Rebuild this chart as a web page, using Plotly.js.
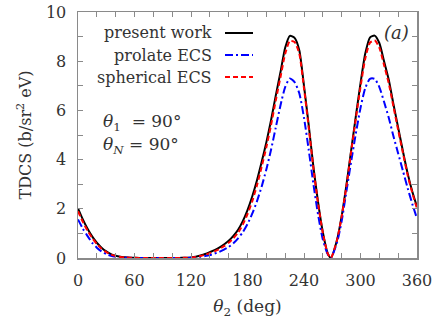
<!DOCTYPE html>
<html>
<head>
<meta charset="utf-8">
<script src="https://cdn.plot.ly/plotly-3.0.1.min.js"></script>
<style>html,body{margin:0;padding:0;background:#fff;}#chart{width:436px;height:319px;}</style>
</head>
<body>
<div id="chart"></div>
<script>
// theta_2 in degrees (step 5, with the minimum read at 268.5)
const theta = [0,5,10,15,20,25,30,35,40,45,50,55,60,65,70,75,80,85,90,95,
  100,105,110,115,120,125,130,135,140,145,150,155,160,165,170,175,180,185,190,195,
  200,205,210,215,220,225,230,235,240,245,250,255,260,265,268.5,275,280,285,290,295,
  300,305,310,315,320,325,330,335,340,345,350,355,360];

const presentWork = [2.02,1.58,1.2,0.88,0.62,0.42,0.27,0.16,0.09,0.05,0.03,0.015,0.008,0.004,0.002,0.001,0,0,0,0,
  0.001,0.003,0.006,0.012,0.025,0.05,0.1,0.16,0.24,0.32,0.42,0.55,0.7,0.9,1.15,1.5,1.95,2.5,3.15,3.9,
  4.7,5.6,6.6,7.55,8.55,9.03,8.95,8.45,7.0,5.4,3.7,2.25,1.05,0.21,0,0.72,1.7,2.95,4.35,5.75,
  7.1,8.3,8.96,9.04,8.74,8.0,7.25,6.25,5.3,4.35,3.45,2.7,2.08];

const prolateECS = [1.57,1.2,0.9,0.62,0.42,0.27,0.16,0.09,0.05,0.025,0.012,0.006,0.003,0,0,0,0,0,0,0,
  0,0.001,0.003,0.006,0.012,0.025,0.05,0.08,0.12,0.18,0.25,0.34,0.45,0.6,0.8,1.05,1.38,1.8,2.3,2.9,
  3.6,4.4,5.3,6.2,6.95,7.3,7.15,6.7,5.7,4.4,3.0,1.75,0.75,0.17,0,0.62,1.5,2.7,3.9,5.05,
  6.1,6.9,7.28,7.28,6.95,6.35,5.7,4.95,4.25,3.55,2.85,2.2,1.6];

const sphericalECS = [1.9,1.48,1.12,0.82,0.57,0.38,0.24,0.14,0.08,0.045,0.025,0.012,0.006,0.003,0.001,0,0,0,0,0,
  0.001,0.002,0.005,0.01,0.02,0.04,0.08,0.13,0.2,0.27,0.36,0.48,0.62,0.8,1.03,1.36,1.78,2.3,2.95,3.7,
  4.5,5.4,6.4,7.35,8.3,8.82,8.78,8.3,6.9,5.3,3.65,2.2,1.02,0.2,0,0.72,1.68,2.9,4.3,5.65,
  6.95,8.1,8.75,8.85,8.55,7.85,7.1,6.15,5.2,4.28,3.38,2.65,2.02];

const seriesNames = ['present work', 'prolate ECS', 'spherical ECS'];
const xTickVals = [0, 60, 120, 180, 240, 300, 360];
const yTickVals = [0, 2, 4, 6, 8, 10];

const FONT = 'DejaVu Serif';
const TXT = '#333';
const AX = '#8a8a8a';

const styles = [
  {color: '#000000', dash: 'solid', width: 2},
  {color: '#0000ff', dash: '8px,3px,2px,3px', width: 2},
  {color: '#ff0000', dash: '5px,3px', width: 2}
];
const ys = [presentWork, prolateECS, sphericalECS];

const traces = ys.map((y, i) => ({
  x: theta, y: y, type: 'scatter', mode: 'lines', name: seriesNames[i],
  line: {color: styles[i].color, dash: styles[i].dash, width: styles[i].width, shape: 'spline', smoothing: 0.6},
  showlegend: false
}));

// manual legend (text right-aligned, sample line to the right)
const L = 78, R = 417, T = 12, B = 258;
const px = v => (v - L) / (R - L);
const py = v => (B - v) / (B - T);
const legendRows = [33, 55, 77];
const annotations = [];
const shapes = [];
seriesNames.forEach((n, i) => {
  annotations.push({xref: 'paper', yref: 'paper', x: px(214), y: py(legendRows[i]), xanchor: 'right', yanchor: 'middle',
    text: n, showarrow: false, font: {family: FONT, size: 16, color: TXT}});
  shapes.push({type: 'line', xref: 'paper', yref: 'paper', x0: px(225), x1: px(253), y0: py(legendRows[i]), y1: py(legendRows[i]),
    line: {color: styles[i].color, dash: styles[i].dash, width: 2}});
});
annotations.push({xref: 'paper', yref: 'paper', x: px(411), y: py(33), xanchor: 'right', yanchor: 'middle',
  text: '<i>(a)</i>', showarrow: false, font: {family: FONT, size: 18, color: TXT}});
annotations.push({xref: 'paper', yref: 'paper', x: px(101), y: py(123), xanchor: 'left', yanchor: 'middle',
  text: '<i>θ</i><sub>1</sub>  = 90°', showarrow: false, font: {family: FONT, size: 17, color: TXT}});
annotations.push({xref: 'paper', yref: 'paper', x: px(101), y: py(145), xanchor: 'left', yanchor: 'middle',
  text: '<i>θ</i><sub><i>N</i></sub> = 90°', showarrow: false, font: {family: FONT, size: 17, color: TXT}});

const axisCommon = {
  showline: true, linecolor: AX, linewidth: 1.5, mirror: 'ticks',
  ticks: 'inside', ticklen: 5, tickcolor: AX, tickwidth: 1,
  showgrid: false, zeroline: false,
  tickfont: {family: FONT, size: 16, color: TXT}
};

const layout = {
  width: 436, height: 319,
  margin: {l: L, r: 436 - R, t: T, b: 319 - B},
  paper_bgcolor: '#fff', plot_bgcolor: '#fff',
  font: {family: FONT, color: TXT},
  xaxis: Object.assign({}, axisCommon, {
    range: [0, 360], tickmode: 'array', tickvals: xTickVals, ticklabelstandoff: 7,
    minor: {dtick: 20, ticks: 'inside', ticklen: 5, tickcolor: AX, showgrid: false},
    title: {text: '<i>θ</i><sub>2</sub> (deg)', font: {family: FONT, size: 17, color: TXT}, standoff: 12}
  }),
  yaxis: Object.assign({}, axisCommon, {
    range: [0, 10], tickmode: 'array', tickvals: yTickVals, ticklabelstandoff: 7,
    minor: {dtick: 1, ticks: 'inside', ticklen: 5, tickcolor: AX, showgrid: false},
    title: {text: 'TDCS (b/sr<sup>2</sup> eV)', font: {family: FONT, size: 16, color: TXT}, standoff: 10}
  }),
  annotations: annotations,
  shapes: shapes
};

Plotly.newPlot('chart', traces, layout, {displayModeBar: false, staticPlot: true});
</script>
</body>
</html>
